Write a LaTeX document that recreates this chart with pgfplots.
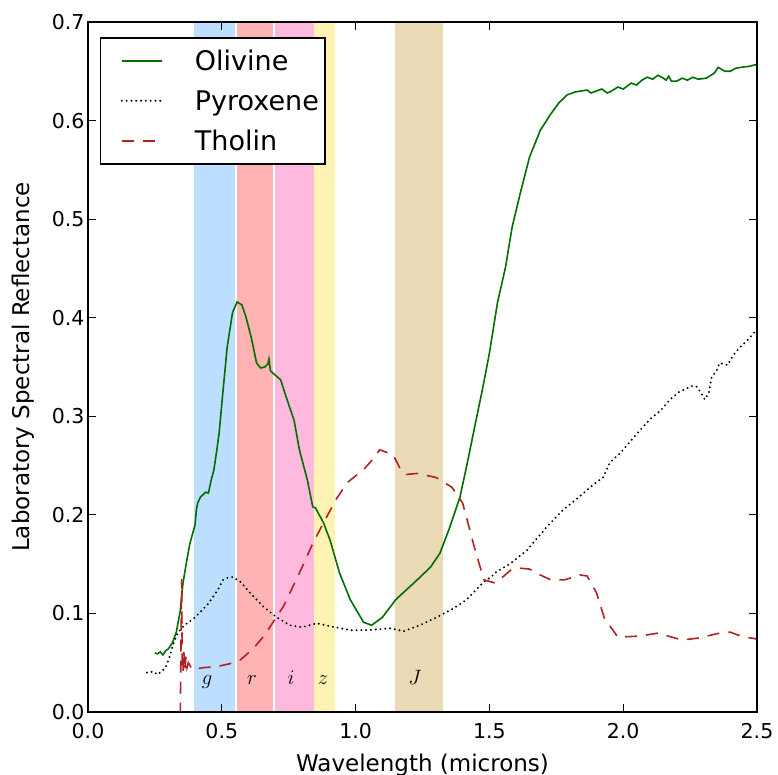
\documentclass[border=0pt]{standalone}
\usepackage{pgfplots}
\pgfplotsset{compat=1.18}
\usepackage{fontspec}
\setmainfont{DejaVu Sans}
\definecolor{gband}{RGB}{188,222,255}
\definecolor{rband}{RGB}{255,179,179}
\definecolor{iband}{RGB}{255,184,222}
\definecolor{zband}{RGB}{255,243,179}
\definecolor{jband}{RGB}{234,218,181}
\definecolor{olivc}{RGB}{0,110,0}
\definecolor{tholc}{RGB}{178,34,34}
\newcommand\tickfont{\fontsize{20.5}{24}\selectfont}
\newcommand\labfont{\fontsize{23}{27}\selectfont}
\newcommand\legfont{\fontsize{27}{32}\selectfont}
\begin{document}
\begin{tikzpicture}
\begin{axis}[
  width=669pt, height=690pt, scale only axis,
  xmin=0, xmax=2.5, ymin=0, ymax=0.7,
  xtick={0,0.5,1,1.5,2,2.5},
  ytick={0,0.1,0.2,0.3,0.4,0.5,0.6,0.7},
  minor tick num=0,
  tick align=inside,
  major tick length=8pt,
  every tick/.style={black, line width=1pt},
  axis line style={line width=1.5pt},
  axis on top,
  tick label style={font=\tickfont},
  xticklabel style={yshift=-8pt},
  /pgf/number format/.cd, fixed, fixed zerofill, precision=1, assume math mode=true,
  /pgfplots/.cd,
  xlabel={Wavelength (microns)},
  ylabel={Laboratory Spectral Reflectance},
  xlabel style={font=\labfont, at={(axis description cs:0.5,-0.061)}, anchor=north, inner sep=0pt},
  ylabel style={font=\labfont, at={(axis description cs:-0.080,0.5)}, anchor=south, rotate=0, inner sep=0pt},
  legend style={at={(0,1)}, anchor=north west, xshift=12pt, yshift=-15pt,
    draw=black, line width=1.5pt, fill=white, inner xsep=6pt, inner ysep=3pt,
    row sep=0pt, font=\legfont,
    nodes={inner xsep=0pt, inner ysep=8pt, text height=22pt, text depth=2pt},
    /tikz/every odd column/.append style={column sep=32pt}},
  legend cell align=left,
  legend image code/.code={\path (-14pt,0pt); \draw[#1] (0pt,0pt) -- (40pt,0pt);},
]
% filter bands
\addplot[fill=gband, draw=none, forget plot] coordinates {(0.395,0) (0.395,0.7) (0.549,0.7) (0.549,0)} -- cycle;
\addplot[fill=rband, draw=none, forget plot] coordinates {(0.557,0) (0.557,0.7) (0.690,0.7) (0.690,0)} -- cycle;
\addplot[fill=iband, draw=none, forget plot] coordinates {(0.700,0) (0.700,0.7) (0.846,0.7) (0.846,0)} -- cycle;
\addplot[fill=zband, draw=none, forget plot] coordinates {(0.846,0) (0.846,0.7) (0.922,0.7) (0.922,0)} -- cycle;
\addplot[fill=jband, draw=none, forget plot] coordinates {(1.147,0) (1.147,0.7) (1.327,0.7) (1.327,0)} -- cycle;

% Olivine
\addplot[olivc, line width=1.6pt] coordinates {
(0.25,0.060)(0.26,0.059)(0.27,0.061)(0.28,0.058)(0.29,0.062)(0.30,0.064)(0.315,0.070)(0.33,0.081)(0.345,0.103)(0.355,0.131)
(0.37,0.155)(0.38,0.170)(0.39,0.180)(0.40,0.190)(0.405,0.205)(0.41,0.212)(0.42,0.218)(0.44,0.223)(0.45,0.222)
(0.46,0.235)(0.47,0.245)(0.48,0.263)(0.49,0.283)(0.505,0.327)(0.52,0.370)(0.54,0.405)(0.557,0.416)(0.575,0.413)
(0.59,0.401)(0.61,0.380)(0.63,0.354)(0.645,0.349)(0.66,0.350)(0.672,0.353)(0.676,0.358)(0.682,0.346)(0.69,0.344)
(0.72,0.337)(0.74,0.320)(0.77,0.296)(0.79,0.266)(0.82,0.235)(0.84,0.208)(0.85,0.207)(0.88,0.192)(0.905,0.174)
(0.94,0.141)(0.98,0.114)(1.03,0.091)(1.06,0.088)(1.10,0.096)(1.15,0.114)(1.23,0.134)(1.28,0.147)(1.315,0.161)
(1.35,0.186)(1.39,0.218)(1.42,0.256)(1.45,0.296)(1.476,0.330)(1.50,0.364)(1.53,0.415)(1.56,0.451)(1.585,0.492)
(1.615,0.526)(1.65,0.563)(1.69,0.590)(1.73,0.607)(1.76,0.618)(1.79,0.626)(1.82,0.629)(1.865,0.631)(1.88,0.628)
(1.90,0.630)(1.92,0.632)(1.94,0.628)(1.95,0.629)(1.98,0.634)(2.00,0.632)(2.03,0.638)(2.05,0.636)(2.07,0.641)
(2.09,0.644)(2.11,0.642)(2.13,0.646)(2.15,0.643)(2.16,0.641)(2.17,0.645)(2.18,0.640)(2.20,0.640)(2.22,0.643)
(2.24,0.641)(2.26,0.644)(2.28,0.642)(2.31,0.643)(2.34,0.648)(2.355,0.654)(2.38,0.650)(2.40,0.650)(2.42,0.653)
(2.44,0.654)(2.47,0.655)(2.50,0.657)};
\addlegendentry{Olivine}

% Pyroxene
\addplot[black, line width=2.2pt, line cap=round, dash pattern=on 0pt off 4.8pt] coordinates {
(0.22,0.040)(0.245,0.041)(0.26,0.038)(0.29,0.045)(0.305,0.056)(0.32,0.070)(0.335,0.080)(0.36,0.088)(0.40,0.096)
(0.45,0.110)(0.485,0.124)(0.505,0.134)(0.52,0.136)(0.54,0.137)(0.57,0.132)(0.605,0.121)(0.655,0.107)(0.705,0.096)
(0.755,0.088)(0.80,0.086)(0.855,0.090)(0.905,0.087)(0.98,0.083)(1.04,0.083)(1.09,0.084)(1.13,0.085)(1.18,0.082)
(1.24,0.088)(1.31,0.097)(1.365,0.105)(1.415,0.114)(1.475,0.131)(1.515,0.139)(1.52,0.141)(1.58,0.151)(1.64,0.164)
(1.715,0.188)(1.775,0.205)(1.83,0.217)(1.89,0.231)(1.925,0.238)(1.95,0.253)(1.99,0.263)(2.025,0.274)(2.06,0.285)
(2.10,0.297)(2.14,0.306)(2.175,0.317)(2.21,0.325)(2.26,0.331)(2.275,0.330)(2.29,0.324)(2.305,0.317)(2.32,0.324)
(2.33,0.339)(2.35,0.347)(2.36,0.354)(2.39,0.352)(2.405,0.359)(2.42,0.365)(2.44,0.371)(2.46,0.376)(2.48,0.382)
(2.50,0.388)};
\addlegendentry{Pyroxene}

% Tholin
\addplot[tholc, line width=1.6pt, dash pattern=on 12pt off 9pt] coordinates {
(0.10,0.0)(0.20,0.0)(0.345,0.0)(0.35,0.135)(0.352,0.055)(0.355,0.040)(0.358,0.062)(0.362,0.042)(0.366,0.056)
(0.37,0.045)(0.375,0.050)(0.39,0.043)(0.43,0.045)(0.48,0.046)(0.53,0.049)(0.57,0.053)(0.62,0.065)(0.66,0.078)
(0.73,0.107)(0.79,0.141)(0.84,0.171)(0.886,0.195)(0.93,0.217)(0.97,0.233)(1.03,0.246)(1.06,0.255)(1.09,0.266)
(1.14,0.261)(1.17,0.245)(1.19,0.241)(1.23,0.242)(1.30,0.238)(1.36,0.228)(1.40,0.212)(1.45,0.161)(1.48,0.134)
(1.52,0.131)(1.55,0.137)(1.58,0.144)(1.61,0.146)(1.65,0.145)(1.69,0.139)(1.73,0.134)(1.78,0.134)(1.84,0.139)
(1.865,0.138)(1.90,0.121)(1.93,0.095)(1.98,0.076)(2.06,0.077)(2.13,0.080)(2.22,0.073)(2.28,0.075)(2.36,0.080)
(2.40,0.081)(2.45,0.076)(2.48,0.075)(2.50,0.074)};
\addlegendentry{Tholin}

% band labels
\node[anchor=base, font=\fontsize{22}{26}\selectfont] at (axis cs:0.445,0.028) {$g$};
\node[anchor=base, font=\fontsize{22}{26}\selectfont] at (axis cs:0.613,0.028) {$r$};
\node[anchor=base, font=\fontsize{22}{26}\selectfont] at (axis cs:0.759,0.028) {$i$};
\node[anchor=base, font=\fontsize{22}{26}\selectfont] at (axis cs:0.878,0.028) {$z$};
\node[anchor=base, font=\fontsize{22}{26}\selectfont] at (axis cs:1.222,0.028) {$J$};
\end{axis}
\pgfresetboundingbox
\path[use as bounding box] ([xshift=-88pt,yshift=-62pt]current axis.south west) rectangle ([xshift=690pt,yshift=712pt]current axis.south west);
\end{tikzpicture}
\end{document}
